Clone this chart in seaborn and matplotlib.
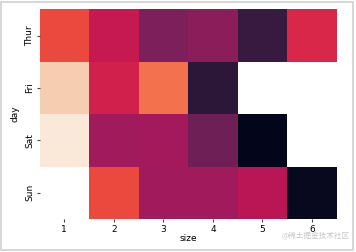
import numpy as np
import pandas as pd
import matplotlib
matplotlib.use("Agg")
import matplotlib.pyplot as plt
import seaborn as sns

days = ["Thur", "Fri", "Sat", "Sun"]
sizes = [1, 2, 3, 4, 5, 6]
thur = [0.62, 0.49, 0.32, 0.35, 0.15, 0.54]
fri = [0.92, 0.52, 0.70, 0.12, np.nan, np.nan]
sat = [0.99, 0.40, 0.41, 0.28, 0.00, np.nan]
sun = [np.nan, 0.62, 0.40, 0.40, 0.46, 0.02]

df = pd.DataFrame([thur, fri, sat, sun], index=pd.Index(days, name="day"),
                  columns=pd.Index(sizes, name="size"))

fig = plt.figure(figsize=(3.56, 2.52), dpi=100)
ax = fig.add_axes([0.111, 0.131, 0.835, 0.832])
sns.heatmap(df, ax=ax, cbar=False, vmin=0, vmax=1)
ax.tick_params(labelsize=6.5, length=2.5, pad=1.5, color="#444444")
ax.set_xlabel("size", fontsize=6.5, labelpad=0)
ax.set_ylabel("day", fontsize=6.5, labelpad=4)
fig.text(0.982, 0.045, "@稀土掘金技术社区", ha="right", va="bottom", fontsize=5.5,
         color="#c8c8c8", family=["Noto Sans CJK SC", "DejaVu Sans"])
fig.patches.append(plt.Rectangle((0.004, 0.008), 0.988, 0.984, transform=fig.transFigure,
                                 fill=False, edgecolor="#cfcfcf", lw=1.2))
fig.savefig("out.png", dpi=100)
